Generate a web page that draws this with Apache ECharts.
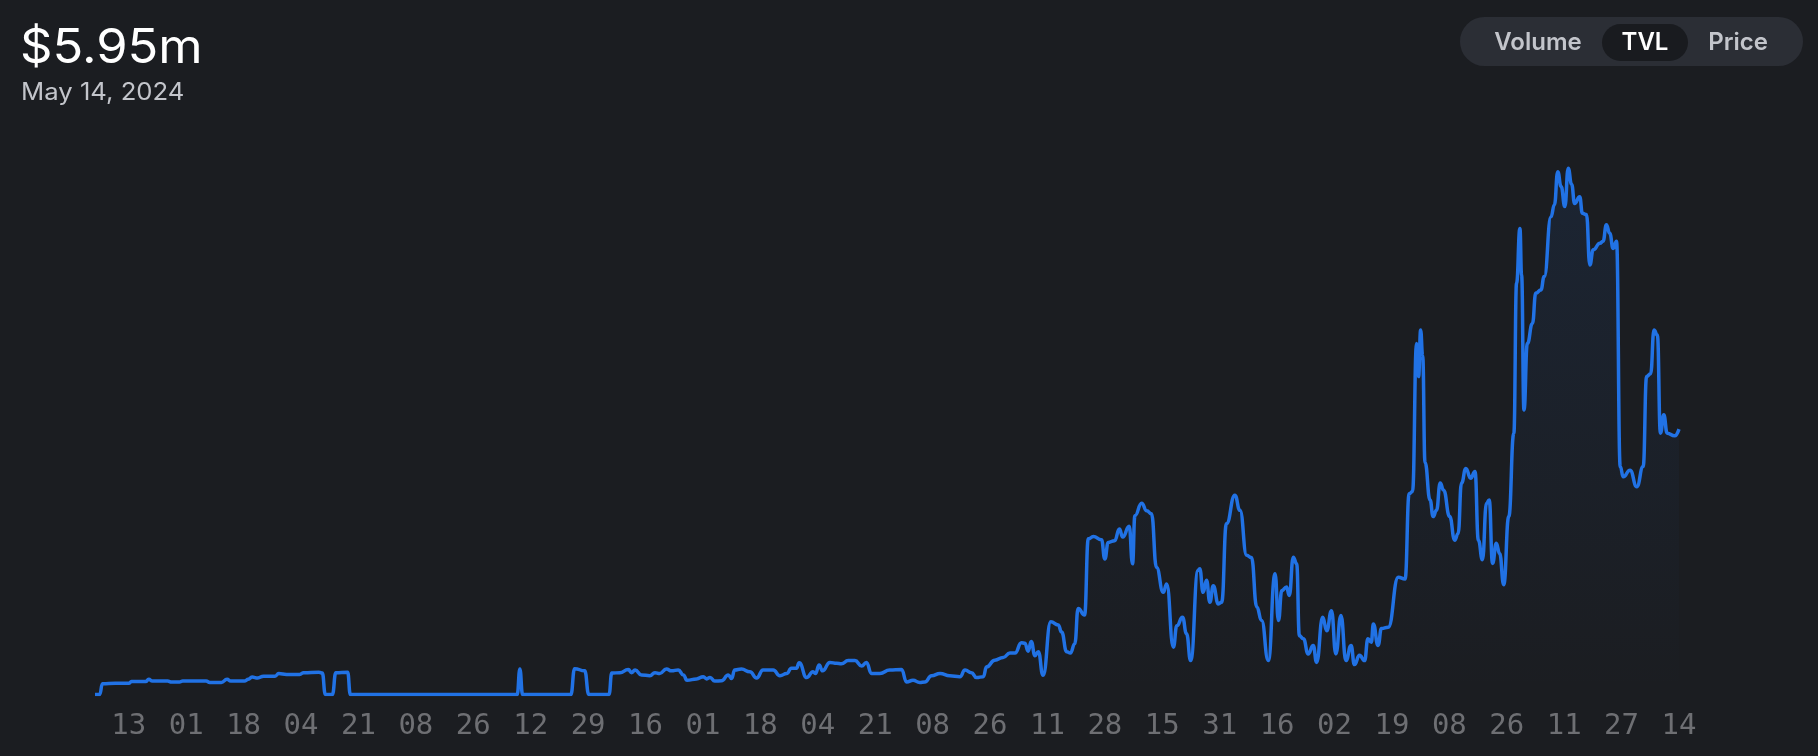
<!DOCTYPE html>
<html>
<head>
<meta charset="utf-8">
<style>
  html, body { margin: 0; padding: 0; background: #1b1d21; }
  #chart { width: 1818px; height: 756px; }
</style>
<script src="https://cdn.jsdelivr.net/npm/echarts@6/dist/echarts.min.js"></script>
</head>
<body>
<div id="chart"></div>
<script>
// Tick labels (day of month), one every 17 point-index units along the x axis
const tickLabels = ['13','01','18','04','21','08','26','12','29','16','01','18','04','21','08','26','11','28','15','31','16','02','19','08','26','11','27','14'];
const tickStep = 17;

// Point index along the time axis (0 = Feb 13, 2023 tick, 459 = May 14, 2024)
const dayIndex = [
  -10,-8.6,-7.8,-4,0,0.8,5,5.9,7,11.5,12.7,15,16,22.9,24,27.4,29.1,30.2,34.2,35.4,36.5,38.2,39.9,43.3,44.4,46.7,50.6,51.8,56.3,57.3,
  58.2,60.3,61.3,64.8,65.6,115,115.8,116.6,130.9,132,135,136.2,142.2,143,145.4,147.9,148.9,149.9,151.8,154.3,155.8,157.2,159.2,160.7,
  162.7,164.2,165.3,168.1,170.1,171.1,172.1,173.5,175.5,177.5,178.5,179.4,181.4,183.9,185.9,187.8,190.8,192.8,194.8,196.2,197.7,198.5,
  200.7,202.6,203.3,204.4,205.4,207.6,209.6,211,213,215,217,218.4,219.9,222.4,225.3,228.8,230.3,232.2,234.2,235.7,237.7,240.2,243.1,
  246.1,247.6,249.5,251,253,254,256.4,258.9,260.9,262.4,264.3,265.3,266.3,267.2,268.3,269.3,270.7,273,275.2,276.2,277.7,278.8,280.1,
  281.1,283,284.1,285.6,288,289,290,291.9,293.3,294.3,296.2,297.2,297.9,299.9,301.4,302.8,304.3,306.3,307.3,309.3,310.3,312,313.2,
  314.4,316.6,317.1,318.1,319.1,320.1,321.1,322.6,323.6,325,327.5,329,331,332.4,334,335.4,337.4,339.4,340.4,341.4,342.8,343.6,344.8,
  345.8,346.6,347.8,349.2,350.7,351.7,353.5,354.7,356.1,357.4,358.9,360.4,361.9,362.9,364.4,365.9,366.9,367.9,368.5,369.9,370.9,372.9,
  375.9,377.9,379.1,380.1,381.3,381.9,382.5,383.1,383.8,385.3,386.2,387.2,388.3,389.3,391.1,392.6,393.6,394.6,395.9,397.3,398.6,399.6,
  400.8,402,402.8,403.8,404.9,405.9,407.1,408.6,410.1,410.9,411.9,412.4,413.1,414.1,415.6,416.6,418.1,419.1,421.1,422.1,423.1,424.1,
  425.2,426.2,427.2,428.1,429.6,430.4,431.6,432.6,433.6,435.6,436.5,437.5,438.5,439.5,440.5,441.6,442.5,444.5,446.5,448.4,449.4,450.6,
  451.6,452.6,453.5,454.5,455.5,457.7,459
];

// TVL in millions of USD
const tvlMillions = [
  0,0,0.24,0.25,0.25,0.29,0.29,0.34,0.30,0.30,0.28,0.28,0.30,0.30,0.27,0.27,0.34,0.30,0.30,0.34,0.39,0.37,0.41,0.41,0.47,0.45,0.45,0.49,0.50,0.48,
  0,0,0.49,0.50,0,0,0.57,0,0,0.58,0.53,0,0,0.48,0.49,0.56,0.49,0.55,0.44,0.42,0.49,0.47,0.57,0.53,
  0.55,0.44,0.32,0.35,0.40,0.35,0.38,0.30,0.31,0.44,0.36,0.55,0.57,0.51,0.37,0.55,0.55,0.42,0.47,0.59,0.59,0.71,
  0.38,0.51,0.47,0.66,0.53,0.72,0.70,0.69,0.76,0.76,0.64,0.72,0.47,0.47,0.55,0.56,0.28,0.32,0.27,0.28,0.42,0.47,0.42,
  0.40,0.55,0.49,0.38,0.40,0.62,0.77,0.83,0.93,0.93,1.16,1.15,0.97,1.19,0.87,0.96,0.43,1.63,1.56,1.40,0.96,0.93,1.14,
  1.93,1.78,3.49,3.54,3.47,3.04,3.41,3.45,3.71,3.53,3.77,2.93,4.01,4.29,4.12,4.05,2.85,2.29,2.48,1.06,1.54,1.73,1.36,
  0.76,2.78,2.82,2.29,2.56,2.07,2.44,2.03,2.07,3.83,4.47,4.13,3.12,3.07,1.96,1.66,0.76,2.71,1.66,2.33,2.41,2.22,3.08,
  2.93,1.32,1.25,0.91,1.10,0.72,1.73,1.43,1.88,0.91,1.77,0.76,1.10,0.67,0.88,0.76,1.25,1.17,1.58,1.10,1.48,1.51,
  2.63,2.59,4.50,4.55,7.87,7.13,8.17,7.60,5.20,4.36,3.99,4.13,4.74,4.58,3.99,3.46,3.61,4.74,5.07,4.85,5.00,3.46,
  3.02,4.29,4.36,2.94,3.39,3.16,2.46,3.99,5.86,9.22,10.45,9.40,6.38,7.87,8.32,9.00,9.07,9.37,10.71,10.98,11.72,11.39,
  10.94,11.80,11.44,11.01,11.16,10.79,10.76,9.63,9.97,10.12,10.16,10.53,10.34,10.00,10.16,5.11,4.88,5.03,4.66,5.11,7.13,7.19,
  8.17,8.06,5.86,6.27,5.86,5.80,5.95
];

const headline = '$5.95m';
const headlineDate = 'May 14, 2024';
const toggleItems = ['Volume', 'TVL', 'Price'];

const seriesData = dayIndex.map((d, i) => [d, tvlMillions[i]]);
const tickPositions = tickLabels.map((_, i) => i * tickStep);

const chart = echarts.init(document.getElementById('chart'), null, { renderer: 'canvas' });
chart.setOption({
  backgroundColor: '#1b1d21',
  animation: false,
  grid: { left: 95, right: 139, top: 137, bottom: 61.5 },
  xAxis: {
    type: 'value',
    min: -10,
    max: 459,
    axisLine: { show: false },
    axisTick: { show: false },
    splitLine: { show: false },
    axisLabel: {
      customValues: tickPositions,
      formatter: (v) => tickLabels[Math.round(v / tickStep)],
      color: '#6e6f73',
      fontFamily: 'DejaVu Sans Mono',
      fontSize: 29,
      margin: 17
    }
  },
  yAxis: {
    type: 'value',
    min: 0,
    max: 12.5,
    show: false,
    splitLine: { show: false }
  },
  series: [{
    type: 'line',
    data: seriesData,
    showSymbol: false,
    smooth: 0.5,
    smoothMonotone: 'x',
    lineStyle: { color: '#2172e5', width: 3.5 },
    itemStyle: { color: '#2172e5' },
    areaStyle: {
      color: new echarts.graphic.LinearGradient(0, 0, 0, 1, [
        { offset: 0, color: 'rgba(33,114,229,0.13)' },
        { offset: 1, color: 'rgba(33,114,229,0)' }
      ])
    }
  }],
  graphic: [
    { type: 'text', x: 20, y: 25, scaleX: 1.055, style: { text: headline, fill: '#ffffff', font: '400 48px Inter' } },
    { type: 'text', x: 21, y: 81, scaleX: 1.07, style: { text: headlineDate, fill: '#c3c5cb', font: '400 24px Inter' } },
    { type: 'rect', shape: { x: 1460, y: 17, width: 343, height: 49, r: 24.5 }, style: { fill: '#2b2e35' } },
    { type: 'rect', shape: { x: 1602, y: 24, width: 86, height: 37, r: 18.5 }, style: { fill: '#191b1f' } },
    { type: 'text', x: 1538, y: 43, style: { text: toggleItems[0], fill: '#c3c5cb', font: '600 24px Inter', textAlign: 'center', textVerticalAlign: 'middle' } },
    { type: 'text', x: 1645, y: 43, style: { text: toggleItems[1], fill: '#ffffff', font: '600 24px Inter', textAlign: 'center', textVerticalAlign: 'middle' } },
    { type: 'text', x: 1738, y: 43, style: { text: toggleItems[2], fill: '#c3c5cb', font: '600 24px Inter', textAlign: 'center', textVerticalAlign: 'middle' } }
  ]
});
</script>
</body>
</html>
